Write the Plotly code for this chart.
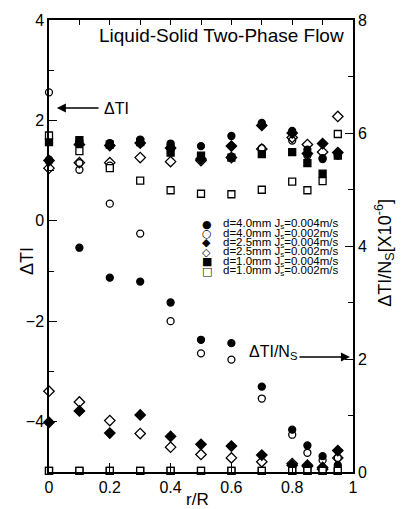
import plotly.graph_objects as go

# r/R positions
r = [0, 0.1, 0.2, 0.3, 0.4, 0.5, 0.6, 0.7, 0.8, 0.85, 0.9, 0.95]

labels = [
    "d=4.0mm J<sub>s</sub>=0.004m/s",
    "d=4.0mm J<sub>s</sub>=0.002m/s",
    "d=2.5mm J<sub>s</sub>=0.004m/s",
    "d=2.5mm J<sub>s</sub>=0.002m/s",
    "d=1.0mm J<sub>s</sub>=0.004m/s",
    "d=1.0mm J<sub>s</sub>=0.002m/s",
]

# Delta TI (left axis)
dti_d40_j004 = [1.22, 1.58, 1.55, 1.62, 1.54, 1.49, 1.69, 1.95, 1.79, 1.42, 1.23, 1.36]
dti_d40_j002 = [1.20, 1.15, 1.10, 1.55, 1.50, 1.25, 1.28, 1.45, 1.60, 1.30, 1.25, 1.30]
dti_d25_j004 = [1.20, 1.52, 1.50, 1.55, 1.45, 1.23, 1.49, 1.90, 1.75, 1.34, 1.54, 1.36]
dti_d25_j002 = [1.05, 1.16, 1.16, 1.26, 1.18, 1.20, 1.26, 1.43, 1.66, 1.52, 1.37, 2.08]
dti_d10_j004 = [1.57, 1.61, 1.52, 1.57, 1.36, 1.30, 1.26, 1.33, 1.37, 1.15, 0.94, 1.30]
dti_d10_j002 = [1.70, 1.39, 1.05, 0.80, 0.61, 0.54, 0.53, 0.62, 0.78, 0.61, 0.79, 1.73]

# Delta TI / Ns  [x10^-6] (right axis)
ns_d40_j004 = [5.50, 3.97, 3.44, 3.37, 3.00, 2.34, 2.28, 1.51, 0.75, 0.47, 0.28, 0.12]
ns_d40_j002 = [6.72, 5.35, 4.75, 4.22, 2.67, 2.10, 1.99, 1.30, 0.66, 0.34, 0.21, 0.25]
ns_d25_j004 = [0.88, 1.08, 0.69, 1.01, 0.63, 0.49, 0.46, 0.30, 0.12, 0.10, 0.08, 0.38]
ns_d25_j002 = [1.43, 1.24, 0.91, 0.68, 0.44, 0.31, 0.25, 0.18, 0.15, 0.12, 0.05, 0.25]
ns_d10_j004 = [0.02, 0.02, 0.02, 0.02, 0.02, 0.02, 0.02, 0.02, 0.02, 0.02, 0.02, 0.02]
ns_d10_j002 = [0.02, 0.02, 0.02, 0.02, 0.02, 0.02, 0.02, 0.02, 0.02, 0.02, 0.02, 0.02]

dti_series = [dti_d40_j004, dti_d40_j002, dti_d25_j004, dti_d25_j002, dti_d10_j004, dti_d10_j002]
ns_series = [ns_d40_j004, ns_d40_j002, ns_d25_j004, ns_d25_j002, ns_d10_j004, ns_d10_j002]

symbols = ["circle", "circle-open", "diamond", "diamond-open", "square", "square"]
fills = ["black", "black", "black", "black", "black", "white"]
sizes = [7, 7, 8, 8, 7, 7]
legend_glyphs = ["\u25CF", "\u25CB", "\u25C6", "\u25C7", "\u25A0", "\u25A1"]

FONT = "Liberation Sans, Arial, sans-serif"

fig = go.Figure()
for i in range(6):
    mk = dict(symbol=symbols[i], size=sizes[i], color=fills[i],
              line=dict(color="black", width=1.3))
    fig.add_trace(go.Scatter(x=r, y=dti_series[i], mode="markers", marker=mk,
                             cliponaxis=False, showlegend=False, xaxis="x", yaxis="y"))
    fig.add_trace(go.Scatter(x=r, y=ns_series[i], mode="markers", marker=mk,
                             cliponaxis=False, showlegend=False, xaxis="x", yaxis="y2"))
# empty trace on top axis to make it render
fig.add_trace(go.Scatter(x=[], y=[], xaxis="x2", yaxis="y", showlegend=False))

axis_common = dict(showline=True, linecolor="black", linewidth=1.5, showgrid=False,
                   zeroline=False, tickcolor="black", tickwidth=1.3,
                   tickfont=dict(family=FONT, size=16, color="black"))

fig.update_layout(
    width=401, height=509,
    margin=dict(l=49, r=48, t=14, b=37),
    paper_bgcolor="white", plot_bgcolor="white",
    showlegend=False,
    xaxis=dict(range=[0, 1], tick0=0, dtick=0.2, ticks="inside", ticklen=9, **axis_common),
    xaxis2=dict(range=[0, 1], tick0=0, dtick=0.1, ticks="inside", ticklen=5,
                overlaying="x", side="top", anchor="y", showticklabels=False,
                **axis_common),
    yaxis=dict(range=[-5, 4], tick0=0, dtick=2, ticks="inside", ticklen=8,
               minor=dict(dtick=1, ticks="inside", ticklen=5, tickcolor="black", tickwidth=1.3),
               **axis_common),
    yaxis2=dict(range=[0, 8], tick0=0, dtick=2, ticks="inside", ticklen=8,
                overlaying="y", side="right", anchor="x",
                minor=dict(dtick=1, ticks="inside", ticklen=5, tickcolor="black", tickwidth=1.3),
                **axis_common),
)

ann = []
# chart title inside plot
ann.append(dict(text="Liquid-Solid Two-Phase Flow", x=0.977, y=3.69, xref="x", yref="y",
                xanchor="right", yanchor="middle", showarrow=False,
                font=dict(family=FONT, size=19, color="black")))
# axis titles
ann.append(dict(text="\u0394TI", x=-0.072, y=0.467, xref="paper", yref="paper",
                textangle=-90, showarrow=False, xanchor="center", yanchor="middle",
                font=dict(family=FONT, size=18, color="black")))
ann.append(dict(text="\u0394TI/N<sub>S</sub>[X10<sup>-6</sup>]", x=1.105, y=0.485,
                xref="paper", yref="paper", textangle=-90, showarrow=False,
                xanchor="center", yanchor="middle",
                font=dict(family=FONT, size=18, color="black")))
ann.append(dict(text="r/R", x=0.49, y=-0.061, xref="paper", yref="paper",
                showarrow=False, xanchor="center", yanchor="middle",
                font=dict(family=FONT, size=17, color="black")))
# arrows
ann.append(dict(text="", x=0.026, y=2.25, ax=0.168, ay=2.25, xref="x", yref="y",
                axref="x", ayref="y", showarrow=True, arrowhead=2, arrowsize=1.2,
                arrowwidth=1.5, arrowcolor="black"))
ann.append(dict(text="\u0394TI", x=0.174, y=2.23, xref="x", yref="y", xanchor="left",
                yanchor="middle", showarrow=False,
                font=dict(family=FONT, size=16, color="black")))
ann.append(dict(text="", x=0.99, y=-2.71, ax=0.819, ay=-2.71, xref="x", yref="y",
                axref="x", ayref="y", showarrow=True, arrowhead=2, arrowsize=1.2,
                arrowwidth=1.5, arrowcolor="black"))
ann.append(dict(text="\u0394TI/N<sub>S</sub>", x=0.651, y=-2.62, xref="x", yref="y",
                xanchor="left", yanchor="middle", showarrow=False,
                font=dict(family=FONT, size=16, color="black")))
# custom legend
row_px = [221, 230.5, 240, 249.5, 259, 268.5]
for i in range(6):
    yv = (217.6 - row_px[i]) / 50.9
    ann.append(dict(text=legend_glyphs[i], x=0.519, y=yv, xref="x", yref="y",
                    xanchor="center", yanchor="middle", showarrow=False,
                    font=dict(family="DejaVu Sans", size=11, color="black")))
    ann.append(dict(text=labels[i], x=0.566, y=yv, xref="x", yref="y",
                    xanchor="left", yanchor="middle", showarrow=False,
                    font=dict(family=FONT, size=11.5, color="black")))

fig.update_layout(annotations=ann)
fig.write_html("out.html")
